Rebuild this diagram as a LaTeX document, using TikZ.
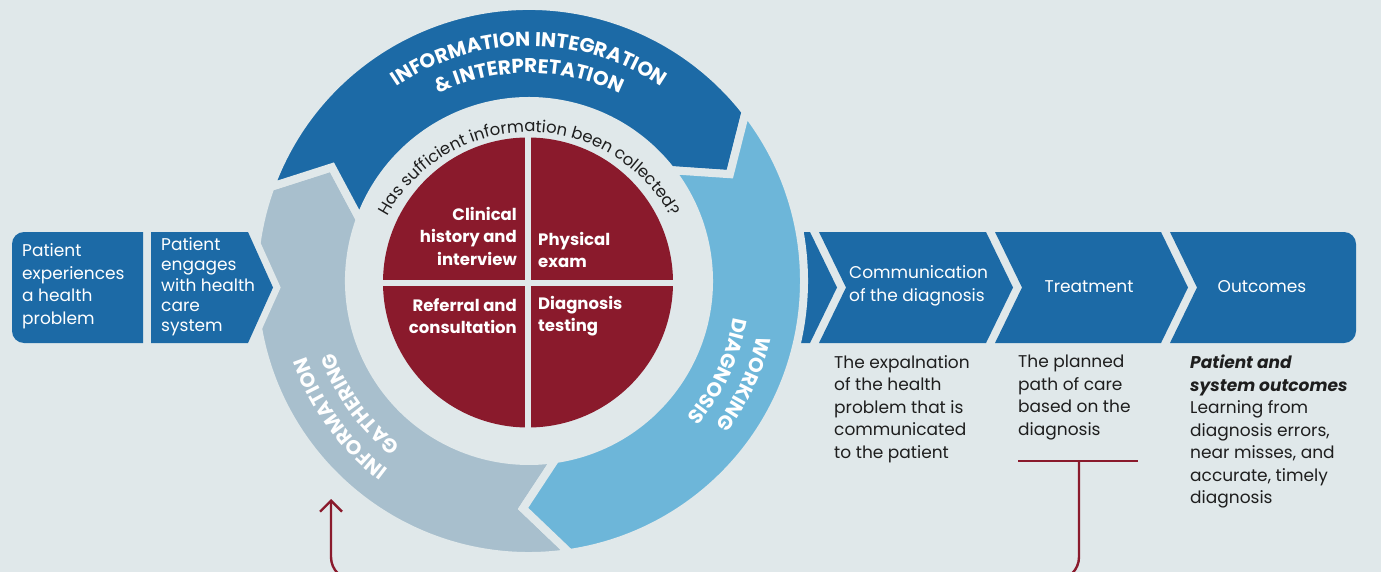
\documentclass[tikz,border=0pt]{standalone}
\usepackage{fontspec}
\setmainfont{Poppins}
\usetikzlibrary{decorations.text,arrows.meta}

\definecolor{bgc}{HTML}{E0E8EA}
\definecolor{dblue}{HTML}{1C6AA6}
\definecolor{lblue}{HTML}{6DB6D9}
\definecolor{gblue}{HTML}{A8BFCD}
\definecolor{wine}{HTML}{8A1A2C}
\definecolor{ink}{HTML}{1E1E1E}

\newcommand\ringfont{\bfseries\fontsize{20}{24}\selectfont}
\newcommand\askfont{\fontsize{16.5}{20}\selectfont}

\tikzset{
  boxtext/.style={text=white, align=left, inner sep=0pt, font=\fontsize{17}{22.5}\selectfont},
  notetext/.style={text=ink, align=left, inner sep=0pt, anchor=north west, font=\fontsize{17}{22.5}\selectfont},
  quadtext/.style={text=white, inner sep=0pt, font=\bfseries\fontsize{16.5}{22.5}\selectfont},
  cutgap/.style={postaction={draw=bgc, line width=8pt}},
  ringlabel/.style={decorate, decoration={text along path, text align=center, text color=white, text={#1}}},
  feedline/.style={draw=wine, line width=2.4pt}
}

\begin{document}
\begin{tikzpicture}[x=1pt,y=1pt]
\useasboundingbox (0,0) rectangle (1381,-572);
\fill[bgc] (0,0) rectangle (1381,-572);

% chevron strip on the right
\fill[dblue] (785,-232) -- (810,-232) -- (837,-287.5) -- (810,-343) -- (785,-343) -- cycle;
\fill[dblue] (819,-232) -- (986,-232) -- (1013,-287.5) -- (986,-343) -- (819,-343) -- (846,-287.5) -- cycle;
\fill[dblue] (995,-232) -- (1161,-232) -- (1188,-287.5) -- (1161,-343) -- (995,-343) -- (1022,-287.5) -- cycle;
\fill[dblue] (1170,-232) -- (1344,-232) arc[start angle=90,end angle=0,radius=12] -- (1356,-331) arc[start angle=0,end angle=-90,radius=12] -- (1170,-343) -- (1197,-287.5) -- cycle;

\begin{scope}[shift={(529,-281)}]
% ring
\path[fill=gblue, cutgap] (278.5:275) arc[start angle=278.5,end angle=160,radius=275] -- (150:227.5) -- (160:180) arc[start angle=160,end angle=278.5,radius=180] -- (268.5:227.5) -- cycle;
\path[fill=dblue, cutgap] (160:275) arc[start angle=160,end angle=38,radius=275] -- (28:227.5) -- (38:180) arc[start angle=38,end angle=160,radius=180] -- (150:227.5) -- cycle;
\path[fill=lblue, cutgap] (38:275) arc[start angle=38,end angle=-81.5,radius=275] -- (-91.5:227.5) -- (-81.5:180) arc[start angle=-81.5,end angle=38,radius=180] -- (28:227.5) -- cycle;

\path[ringlabel={|\ringfont|INFORMATION INTEGRATION}] (150:235) arc[start angle=150,end angle=30,radius=235];
\path[ringlabel={|\ringfont|{\&} INTERPRETATION}] (150:208) arc[start angle=150,end angle=30,radius=208];
\path[ringlabel={|\ringfont|WORKING}] (34.5:235) arc[start angle=34.5,end angle=-85.5,radius=235];
\path[ringlabel={|\ringfont|DIAGNOSIS}] (34.5:208) arc[start angle=34.5,end angle=-85.5,radius=208];
\path[ringlabel={|\ringfont|INFORMATION}] (276:235) arc[start angle=276,end angle=156,radius=235];
\path[ringlabel={|\ringfont|GATHERING}] (276:208) arc[start angle=276,end angle=156,radius=208];

% quadrants
\fill[wine] (-1,-1.5) circle[radius=145];
\draw[bgc, line width=6pt] (-1,146) -- (-1,-149);
\draw[bgc, line width=6pt] (-148,-1.5) -- (146,-1.5);
\path[decorate, decoration={text along path, text align=center, text color=ink, text={|\askfont|Has sufficient information been collected?}}] (0,-12) ++(165:161) arc[start angle=165,end angle=15,radius=161];
\end{scope}

\node (clinical) [quadtext, anchor=east, align=right] at (517,-236) {Clinical\\history and\\interview};
\node (physical) [quadtext, anchor=west, align=left] at (538,-250) {Physical\\exam};
\node (referral) [quadtext, anchor=east, align=right] at (517,-316) {Referral and\\consultation};
\node (testing) [quadtext, anchor=west, align=left] at (538,-316) {Diagnosis\\testing};

% boxes on the left
\fill[dblue] (143,-232) -- (24,-232) arc[start angle=90,end angle=180,radius=12] -- (12,-331) arc[start angle=180,end angle=270,radius=12] -- (143,-343) -- cycle;
\path[fill=dblue, preaction={draw=bgc, line width=14pt}] (151,-232) -- (248,-232) -- (273,-287.5) -- (248,-343) -- (151,-343) -- cycle;
\node (experience) [boxtext, anchor=west] at (22,-286) {Patient\\experiences\\a health\\problem};
\node (engage) [boxtext, anchor=west, font=\fontsize{17}{20.3}\selectfont] at (161,-287) {Patient\\engages\\with health\\care\\system};

% steps after the diagnosis
\node (comm) [boxtext, anchor=west] at (849,-286) {Communication\\of the diagnosis};
\node (treat) [boxtext] at (1089,-287) {Treatment};
\node (outc) [boxtext] at (1262,-287) {Outcomes};
\node (explain) [notetext] at (834,-355) {The expalnation\\of the health\\problem that is\\communicated\\to the patient};
\node (plan) [notetext] at (1018,-355) {The planned\\path of care\\based on the\\diagnosis};
\node (learn) [notetext] at (1190,-355) {\textbf{\textit{Patient and}}\\\textbf{\textit{system outcomes}}\\Learning from\\diagnosis errors,\\near misses, and\\accurate, timely\\diagnosis};

% feedback
\coordinate (barL) at (1018,-461);
\coordinate (barR) at (1138,-461);
\coordinate (barM) at (1079,-461);
\coordinate (gatherin) at (331,-499);
\path[feedline] (barL) edge (barR);
\draw[feedline, rounded corners=23, -{Straight Barb[length=11pt,width=22pt]}] (barM) -- (1079,-580) -| (gatherin);
\end{tikzpicture}
\end{document}
